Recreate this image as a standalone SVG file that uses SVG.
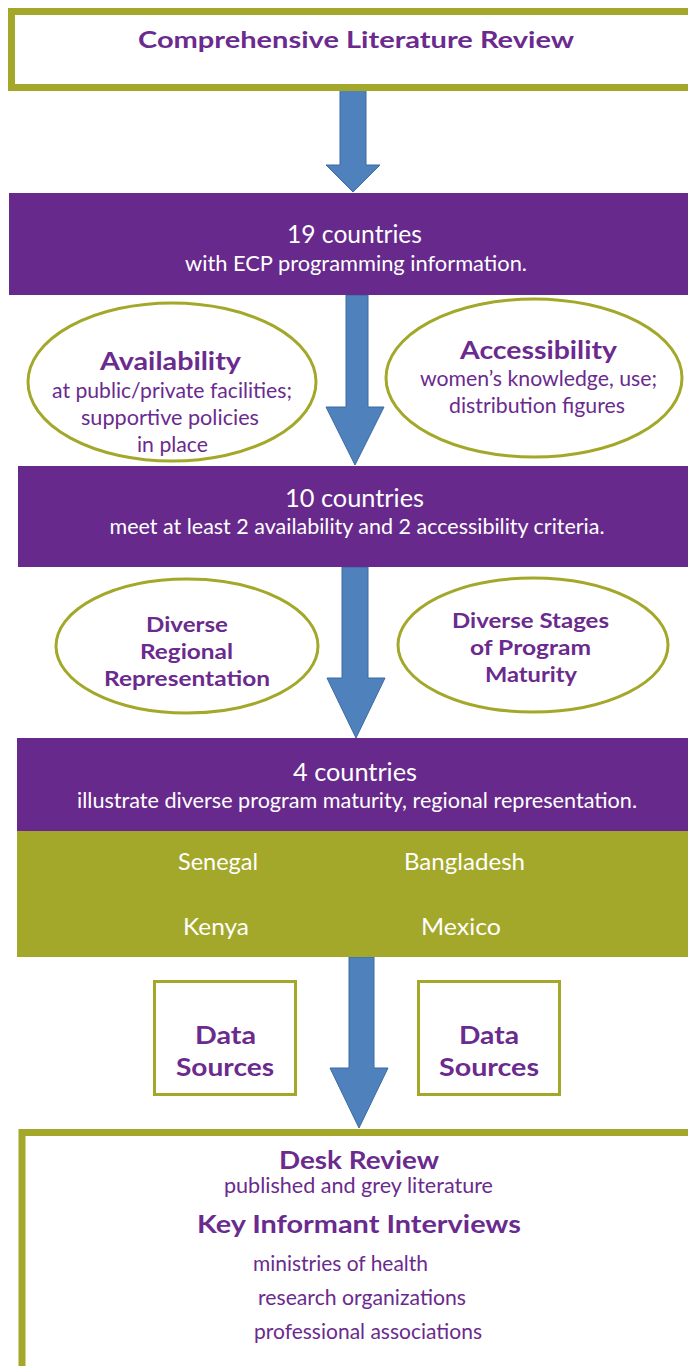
<svg xmlns="http://www.w3.org/2000/svg" width="688" height="1366" viewBox="0 0 688 1366">
<style>
.olive{fill:#fff;stroke:#A3A82A;}
.purple{fill:#67298B;}
.oliveFill{fill:#A3A82A;}
.arrow{fill:#4F81BD;stroke:#3B6BA3;stroke-width:1;}
.ell{fill:#fff;stroke:#A3A82A;stroke-width:3;}
text{font-family:Lato,"Open Sans","Liberation Sans",sans-serif;text-anchor:middle;}
.tb{fill:#6B2A8E;font-weight:bold;}
.tp{fill:#6B2A8E;}
.tw{fill:#fff;}
.st{text-anchor:start;}
</style>
<rect width="688" height="1366" fill="#fff"/>
<g id="connectors">
<path class="arrow" d="M340 88 H366 V165 H380 L353 192 L326 165 H340 Z"/>
<path class="arrow" d="M346 295 H368 V407 H384 L355 465 L326 407 H346 Z"/>
<path class="arrow" d="M342 567 H368 V678 H385 L356 738 L327 678 H342 Z"/>
<path class="arrow" d="M349 957 H374 V1068 H388 L359 1128 L330 1068 H349 Z"/>
</g>
<g id="n-review">
<rect class="olive" x="11.5" y="11.5" width="690" height="76" stroke-width="7"/>
<text class="tb" x="356" y="48" font-size="23" textLength="436" lengthAdjust="spacingAndGlyphs">Comprehensive Literature Review</text>
</g>
<g id="n-19">
<rect class="purple" x="9" y="193" width="690" height="102"/>
<text class="tw" x="354.5" y="243" font-size="25" textLength="135" lengthAdjust="spacingAndGlyphs">19 countries</text>
<text class="tw" x="356" y="271" font-size="21" textLength="342" lengthAdjust="spacingAndGlyphs">with ECP programming information.</text>
</g>
<g id="n-availability">
<ellipse class="ell" cx="172" cy="382" rx="144" ry="79"/>
<text class="tb" x="170.5" y="370" font-size="25" textLength="141" lengthAdjust="spacingAndGlyphs">Availability</text>
<text class="tp" x="172" y="398" font-size="21" textLength="240" lengthAdjust="spacingAndGlyphs">at public/private facilities;</text>
<text class="tp" x="170" y="425" font-size="21" textLength="178" lengthAdjust="spacingAndGlyphs">supportive policies</text>
<text class="tp" x="172.5" y="452" font-size="21" textLength="71" lengthAdjust="spacingAndGlyphs">in place</text>
</g>
<g id="n-accessibility">
<ellipse class="ell" cx="534" cy="378" rx="148" ry="79"/>
<text class="tb" x="538.5" y="359" font-size="25" textLength="157" lengthAdjust="spacingAndGlyphs">Accessibility</text>
<text class="tp" x="538.5" y="386" font-size="21" textLength="237" lengthAdjust="spacingAndGlyphs">women’s knowledge, use;</text>
<text class="tp" x="537" y="413" font-size="21" textLength="176" lengthAdjust="spacingAndGlyphs">distribution figures</text>
</g>
<g id="n-10">
<rect class="purple" x="18" y="466" width="680" height="101"/>
<text class="tw" x="354.5" y="507" font-size="25" textLength="139" lengthAdjust="spacingAndGlyphs">10 countries</text>
<text class="tw" x="357" y="534" font-size="21" textLength="495" lengthAdjust="spacingAndGlyphs">meet at least 2 availability and 2 accessibility criteria.</text>
</g>
<g id="n-regional">
<ellipse class="ell" cx="187" cy="646" rx="131" ry="67"/>
<text class="tb" x="187" y="632" font-size="21" textLength="82" lengthAdjust="spacingAndGlyphs">Diverse</text>
<text class="tb" x="186.5" y="659" font-size="21" textLength="93" lengthAdjust="spacingAndGlyphs">Regional</text>
<text class="tb" x="187" y="686" font-size="21" textLength="166" lengthAdjust="spacingAndGlyphs">Representation</text>
</g>
<g id="n-maturity">
<ellipse class="ell" cx="533" cy="645" rx="135" ry="67"/>
<text class="tb" x="530.5" y="628" font-size="21" textLength="157" lengthAdjust="spacingAndGlyphs">Diverse Stages</text>
<text class="tb" x="530.5" y="655" font-size="21" textLength="121" lengthAdjust="spacingAndGlyphs">of Program</text>
<text class="tb" x="531" y="682" font-size="21" textLength="92" lengthAdjust="spacingAndGlyphs">Maturity</text>
</g>
<g id="n-4">
<rect class="purple" x="17" y="738" width="680" height="93"/>
<text class="tw" x="355" y="781" font-size="25" textLength="124" lengthAdjust="spacingAndGlyphs">4 countries</text>
<text class="tw" x="357" y="808" font-size="21" textLength="560" lengthAdjust="spacingAndGlyphs">illustrate diverse program maturity, regional representation.</text>
</g>
<g id="n-countries">
<rect class="oliveFill" x="17" y="831" width="680" height="126"/>
<text class="tw" x="218" y="870" font-size="23.5" textLength="80" lengthAdjust="spacingAndGlyphs">Senegal</text>
<text class="tw" x="464.5" y="870" font-size="23.5" textLength="121" lengthAdjust="spacingAndGlyphs">Bangladesh</text>
<text class="tw" x="216" y="935" font-size="23.5" textLength="66" lengthAdjust="spacingAndGlyphs">Kenya</text>
<text class="tw" x="461" y="935" font-size="23.5" textLength="80" lengthAdjust="spacingAndGlyphs">Mexico</text>
</g>
<g id="n-data1">
<rect class="olive" x="154.5" y="981.5" width="141" height="113" stroke-width="3"/>
<text class="tb" x="225.5" y="1044" font-size="25" textLength="61" lengthAdjust="spacingAndGlyphs">Data</text>
<text class="tb" x="225" y="1076" font-size="25" textLength="98" lengthAdjust="spacingAndGlyphs">Sources</text>
</g>
<g id="n-data2">
<rect class="olive" x="418.5" y="981.5" width="141" height="113" stroke-width="3"/>
<text class="tb" x="489" y="1044" font-size="25" textLength="60" lengthAdjust="spacingAndGlyphs">Data</text>
<text class="tb" x="489" y="1076" font-size="25" textLength="100" lengthAdjust="spacingAndGlyphs">Sources</text>
</g>
<g id="n-methods">
<rect class="olive" x="22" y="1132.5" width="690" height="260" stroke-width="7"/>
<text class="tb" x="359" y="1169" font-size="25" textLength="160" lengthAdjust="spacingAndGlyphs">Desk Review</text>
<text class="tp" x="358.5" y="1193" font-size="21" textLength="269" lengthAdjust="spacingAndGlyphs">published and grey literature</text>
<text class="tb" x="359" y="1233" font-size="25" textLength="324" lengthAdjust="spacingAndGlyphs">Key Informant Interviews</text>
<text class="tp st" x="253" y="1271" font-size="21" textLength="175" lengthAdjust="spacingAndGlyphs">ministries of health</text>
<text class="tp st" x="258" y="1305" font-size="21" textLength="208" lengthAdjust="spacingAndGlyphs">research organizations</text>
<text class="tp st" x="254" y="1339" font-size="21" textLength="228" lengthAdjust="spacingAndGlyphs">professional associations</text>
</g>
</svg>
